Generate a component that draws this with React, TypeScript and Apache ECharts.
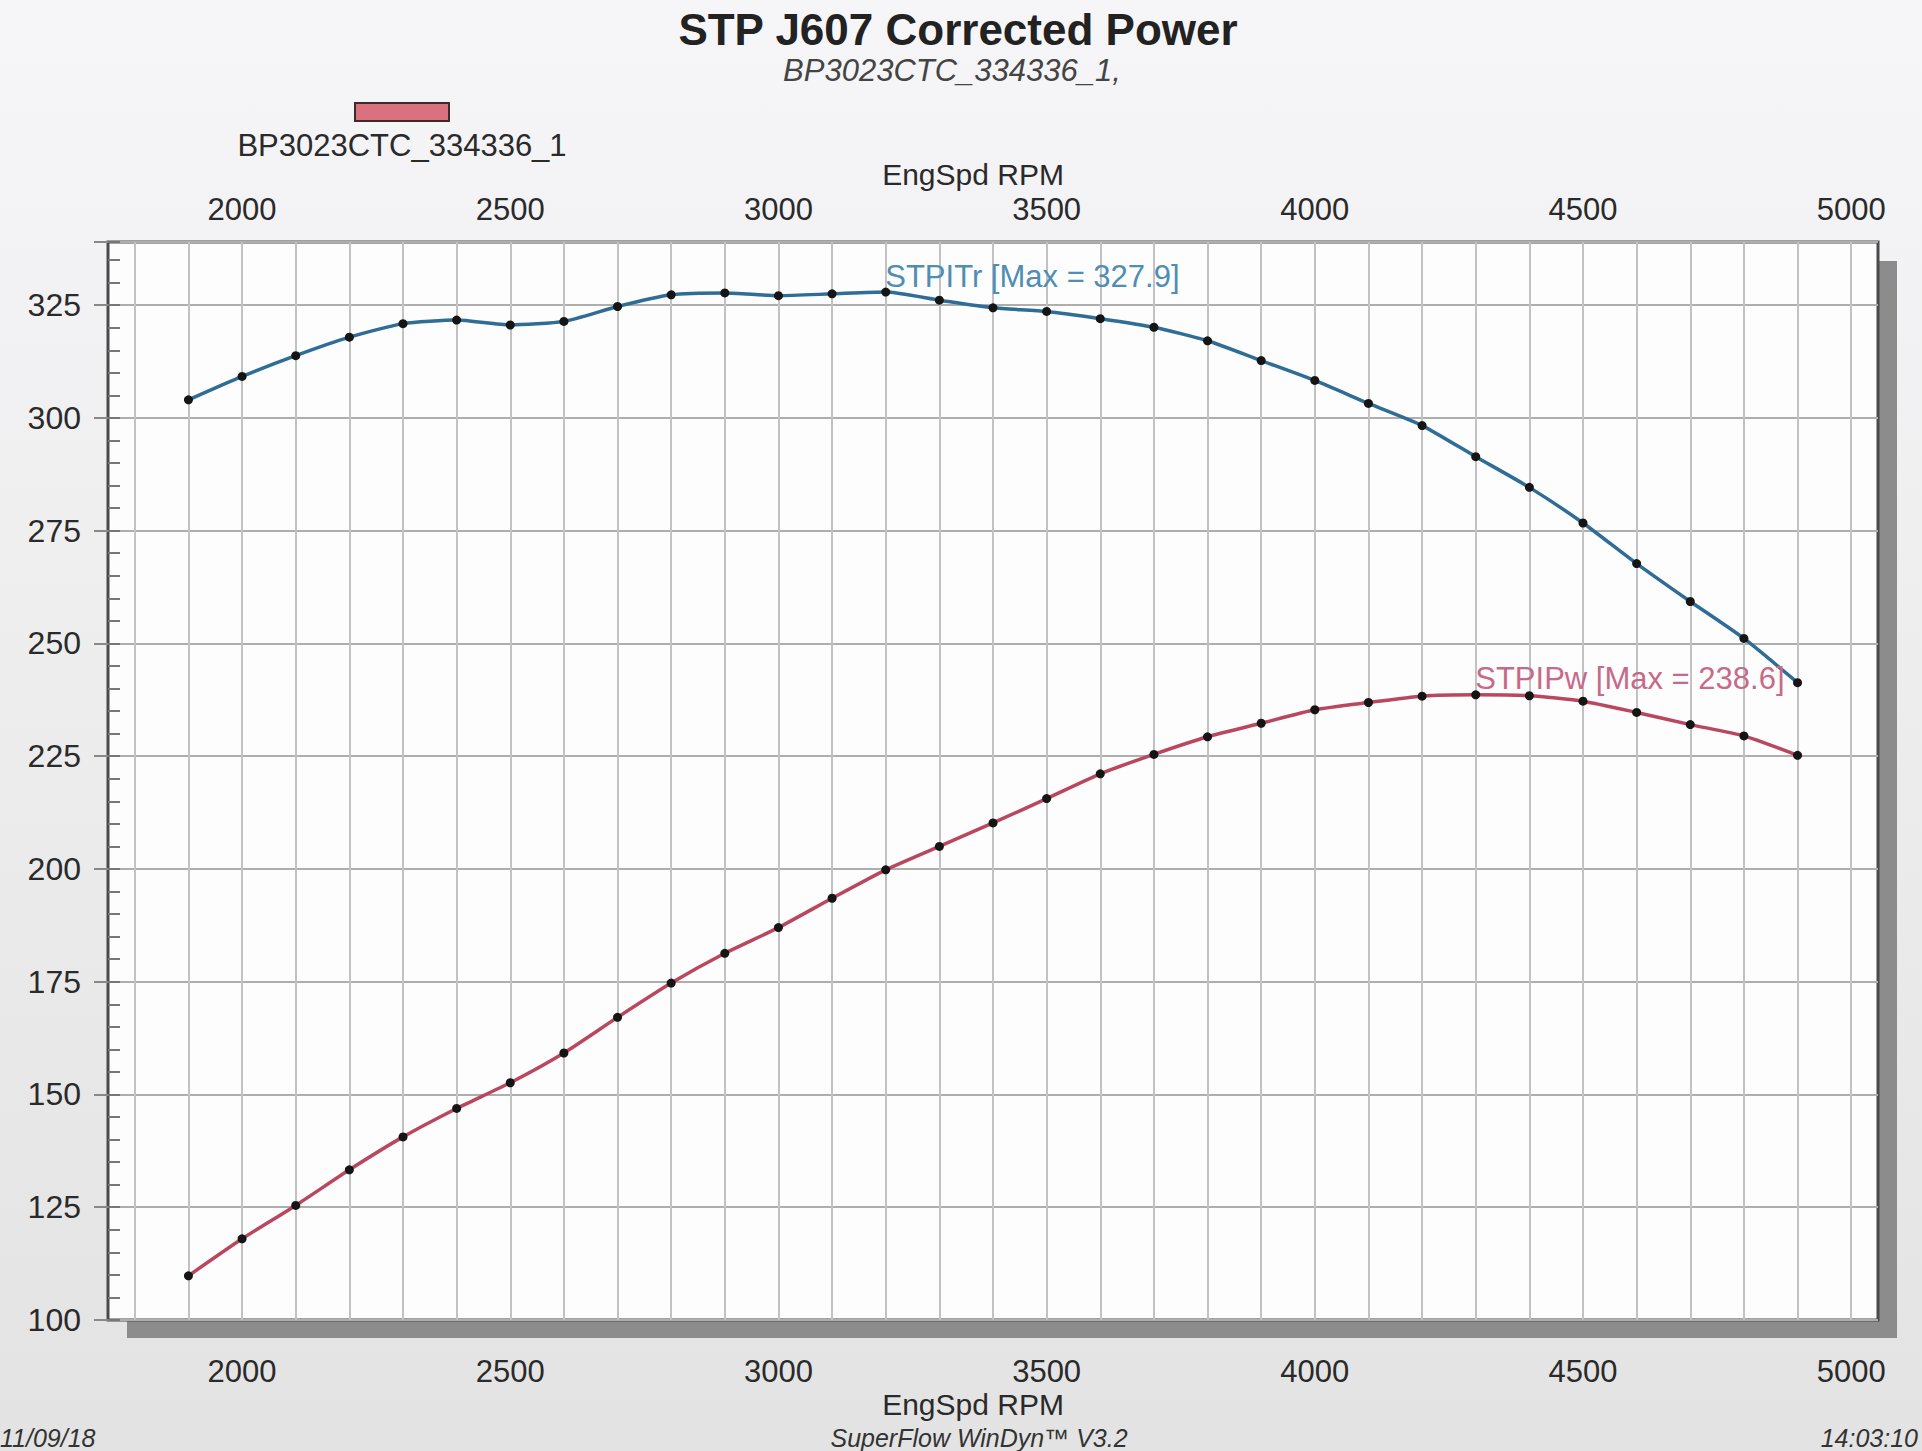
import React, { useEffect, useRef } from 'react';
import * as echarts from 'echarts';

const rpm = [1900, 2000, 2100, 2200, 2300, 2400, 2500, 2600, 2700, 2800, 2900, 3000, 3100, 3200, 3300, 3400, 3500, 3600, 3700, 3800, 3900, 4000, 4100, 4200, 4300, 4400, 4500, 4600, 4700, 4800, 4900];
const torque = [304.0, 309.2, 313.8, 317.9, 320.9, 321.7, 320.6, 321.4, 324.7, 327.3, 327.7, 327.1, 327.5, 327.9, 326.1, 324.4, 323.6, 322.0, 320.1, 317.1, 312.7, 308.3, 303.2, 298.3, 291.4, 284.6, 276.7, 267.7, 259.3, 251.1, 241.3];
const power = [109.8, 118.0, 125.4, 133.3, 140.6, 146.9, 152.6, 159.2, 167.1, 174.7, 181.3, 187.0, 193.5, 199.8, 205.0, 210.2, 215.6, 221.1, 225.4, 229.3, 232.3, 235.3, 236.9, 238.3, 238.6, 238.4, 237.2, 234.7, 232.0, 229.5, 225.2];
const xTickLabels = [2000, 2500, 3000, 3500, 4000, 4500, 5000];
const yTickLabels = [100, 125, 150, 175, 200, 225, 250, 275, 300, 325];

const FONT = '"Liberation Sans", Arial, sans-serif';
const GRID = { left: 108, top: 242, width: 1770, height: 1078 };

export default function App() {
  const ref = useRef<HTMLDivElement>(null);
  useEffect(() => {
    document.body.style.margin = '0';
    document.body.style.overflow = 'hidden';
    const chart = echarts.init(ref.current!, null, { renderer: 'svg' });
    const xCommon = {
      type: 'value',
      min: 1750,
      max: 5050,
      interval: 50,
      axisLine: { show: false },
      axisTick: { show: false },
      name: 'EngSpd RPM',
      nameLocation: 'middle',
      nameMoveOverlap: false,
      nameTextStyle: { fontSize: 30, color: '#2a2a2a', fontFamily: FONT, padding: [0, 40, 0, 0] },
    };
    const labelFmt = (v: number) => (xTickLabels.includes(v) ? String(v) : '');
    chart.setOption({
      animation: false,
      backgroundColor: {
        type: 'linear', x: 0, y: 0, x2: 0, y2: 1,
        colorStops: [
          { offset: 0, color: '#f6f6f8' },
          { offset: 1, color: '#e3e3e3' },
        ],
      },
      grid: {
        ...GRID,
        show: true,
        backgroundColor: '#fdfdfd',
        borderColor: '#4a4a4a',
        borderWidth: 3,
        containLabel: false,
      },
      xAxis: [
        {
          ...xCommon,
          position: 'bottom',
          nameGap: 69,
          axisLabel: { formatter: labelFmt, margin: 36, fontSize: 31, color: '#2a2a2a', fontFamily: FONT },
          splitLine: { show: true, lineStyle: { color: ['rgba(0,0,0,0)', '#c2c2c2'], width: 2 } },
        },
        {
          ...xCommon,
          position: 'top',
          nameGap: 53,
          axisLabel: { formatter: labelFmt, margin: 17, fontSize: 31, color: '#2a2a2a', fontFamily: FONT },
          splitLine: { show: false },
        },
      ],
      yAxis: [
        {
          type: 'value',
          position: 'left',
          min: 100,
          max: 339,
          interval: 25,
          axisLine: { show: false },
          axisTick: { show: true, length: 14, lineStyle: { color: '#888', width: 2 } },
          axisLabel: {
            formatter: (v: number) => (yTickLabels.includes(v) ? String(v) : ''),
            margin: 27, fontSize: 32, color: '#2a2a2a', fontFamily: FONT,
          },
          splitLine: { show: true, lineStyle: { color: '#aeaeae', width: 2 } },
        },
        {
          type: 'value',
          position: 'left',
          offset: 0,
          min: 100,
          max: 339,
          interval: 5,
          axisLine: { show: false },
          axisLabel: { show: false },
          axisTick: { show: true, inside: true, length: 12, lineStyle: { color: '#777', width: 2 } },
          splitLine: { show: false },
        },
      ],
      graphic: [
        { type: 'rect', z: -5, shape: { x: 127, y: 261, width: 1770, height: 1077 }, style: { fill: '#8c8c8c' } },
        { type: 'rect', shape: { x: 355, y: 103, width: 94, height: 18 }, style: { fill: '#d9717f', stroke: '#3b2b2b', lineWidth: 2 } },
        { type: 'text', x: 402, y: 145, style: { text: 'BP3023CTC_334336_1', fontSize: 31, fontFamily: FONT, fill: '#2a2a2a', align: 'center', verticalAlign: 'middle' } },
        { type: 'text', x: 958, y: 29, style: { text: 'STP J607 Corrected Power', fontSize: 44, fontWeight: 'bold', fontFamily: FONT, fill: '#222', align: 'center', verticalAlign: 'middle' } },
        { type: 'text', x: 952, y: 70, style: { text: 'BP3023CTC_334336_1,', fontSize: 31, fontStyle: 'italic', fontFamily: FONT, fill: '#444', align: 'center', verticalAlign: 'middle' } },
        { type: 'text', x: 0, y: 1425, style: { text: '11/09/18', fontSize: 25, fontStyle: 'italic', fontFamily: FONT, fill: '#333', align: 'left', verticalAlign: 'top' } },
        { type: 'text', x: 979, y: 1425, style: { text: 'SuperFlow WinDyn™ V3.2', fontSize: 25, fontStyle: 'italic', fontFamily: FONT, fill: '#333', align: 'center', verticalAlign: 'top' } },
        { type: 'text', x: 1918, y: 1425, style: { text: '14:03:10', fontSize: 25, fontStyle: 'italic', fontFamily: FONT, fill: '#333', align: 'right', verticalAlign: 'top' } },
      ],
      series: [
        {
          name: 'STPITr',
          type: 'line',
          xAxisIndex: 0,
          yAxisIndex: 0,
          data: rpm.map((r, i) => [r, torque[i]]),
          smooth: 0.2,
          symbol: 'circle',
          symbolSize: 9,
          showAllSymbol: true,
          itemStyle: { color: '#151515' },
          lineStyle: { color: '#2f6d96', width: 3.5 },
          markPoint: {
            symbol: 'circle',
            symbolSize: 1,
            itemStyle: { color: 'rgba(0,0,0,0)' },
            data: [{ type: 'max', valueDim: 'y' }],
            label: {
              show: true,
              position: [0, -31],
              formatter: (p: any) => `STPITr [Max = ${p.value}]`,
              color: '#4f8db3',
              fontSize: 31,
              fontFamily: FONT,
            },
          },
          z: 3,
        },
        {
          name: 'STPIPw',
          type: 'line',
          xAxisIndex: 0,
          yAxisIndex: 0,
          data: rpm.map((r, i) => [r, power[i]]),
          smooth: 0.2,
          symbol: 'circle',
          symbolSize: 9,
          showAllSymbol: true,
          itemStyle: { color: '#151515' },
          lineStyle: { color: '#b9485f', width: 3.5 },
          markPoint: {
            symbol: 'circle',
            symbolSize: 1,
            itemStyle: { color: 'rgba(0,0,0,0)' },
            data: [{ type: 'max', valueDim: 'y' }],
            label: {
              show: true,
              position: [0, -31],
              formatter: (p: any) => `STPIPw [Max = ${p.value}]`,
              color: '#c76a8a',
              fontSize: 31,
              fontFamily: FONT,
            },
          },
          z: 3,
        },
      ],
    });
    return () => chart.dispose();
  }, []);
  return <div ref={ref} style={{ width: 1922, height: 1451 }} />;
}
